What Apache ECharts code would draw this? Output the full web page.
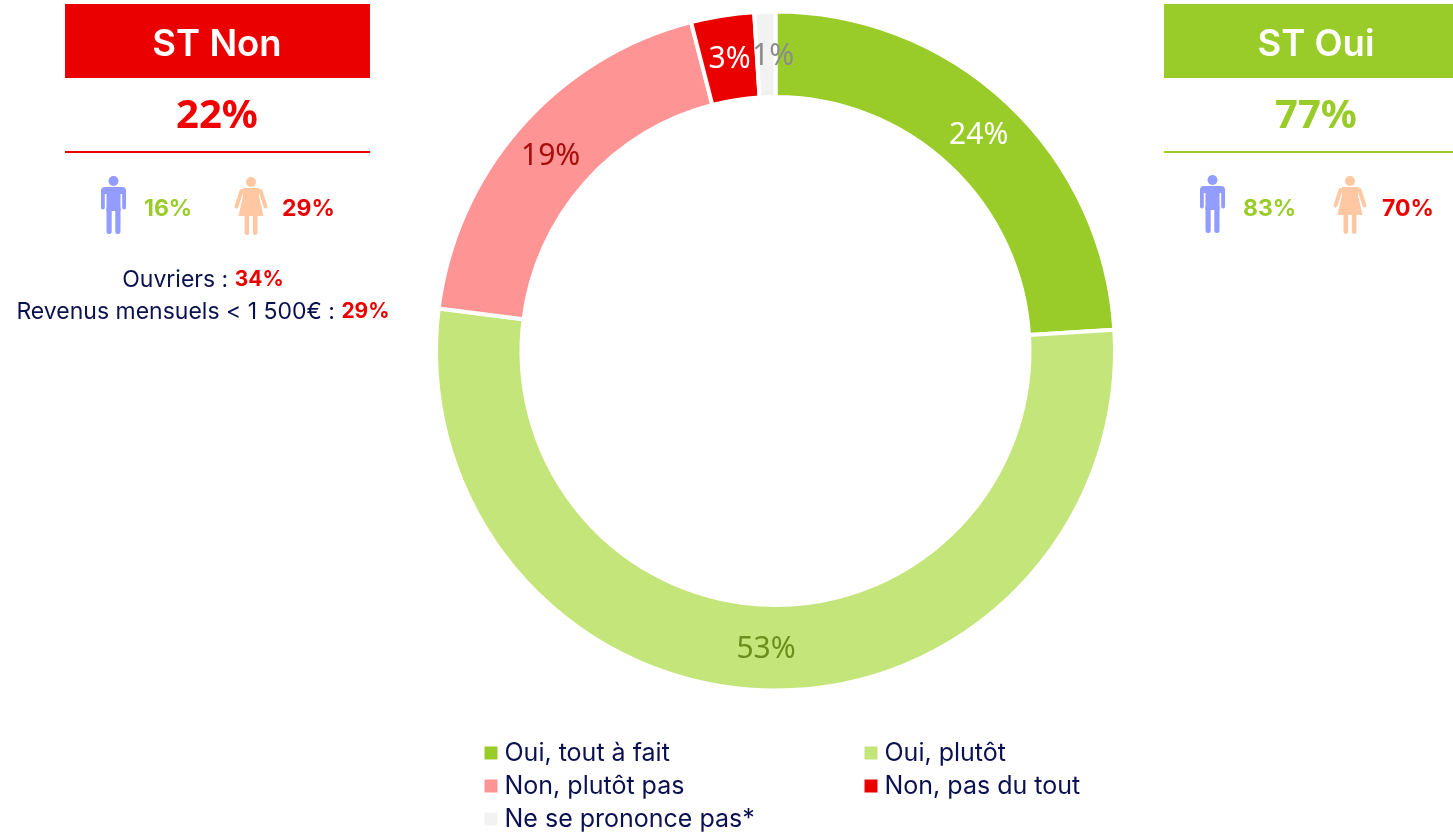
<!DOCTYPE html>
<html><head><meta charset="utf-8">
<style>html,body{margin:0;padding:0;background:#fff}#c{width:1453px;height:832px}</style>
<script src="https://cdn.jsdelivr.net/npm/echarts@6/dist/echarts.min.js"></script></head>
<body><div id="c"></div>
<script>
const categories=['Oui, tout à fait','Oui, plutôt','Non, plutôt pas','Non, pas du tout','Ne se prononce pas*'];
const values=[24,53,19,3,1];
const sliceColors=['#99CC28','#C4E57A','#FF9494','#EB0000','#F2F2F2'];
const labelColors=['#ffffff','#6B8E1E','#A80C0C','#ffffff','#8C8C8C'];
const labelNudges=[[-2,3],[0,-1],[0,4],[1,5],[7,5]];
const legendLeft=[categories[0],categories[2],categories[4]];
const legendRight=[categories[1],categories[3]];
const stNon={title:'ST Non',total:'22%',men:'16%',women:'29%'};
const stOui={title:'ST Oui',total:'77%',men:'83%',women:'70%'};
const details=[['Ouvriers : ','34%'],['Revenus mensuels < 1 500€ : ','29%']];
const FONT='Inter', HAND='"Noto Sans"';
const GREEN='#99CC28',RED='#EB0000',NAVY='#0B1150',MAN='#939CFF',WOMAN='#FFC8A3';
function rr(x,y,w,h,r,c){return {type:'rect',shape:{x:x,y:y,width:w,height:h,r:r},style:{fill:c}};}
function manIcon(x,y){const c=MAN;return {type:'group',x:x,y:y,children:[
 {type:'circle',shape:{cx:0,cy:5,r:5},style:{fill:c}},
 rr(-12.5,11,25,7,[4,4,0,0],c),
 rr(-12.5,13,3.8,20.5,1.8,c), rr(8.7,13,3.8,20.5,1.8,c),
 rr(-7,11,14,24,0,c),
 rr(-7,30,5.2,28,2.5,c), rr(1.8,30,5.2,28,2.5,c)]};}
function womanIcon(x,y){const c=WOMAN;const arm=(a,b)=>({type:'line',shape:{x1:a,y1:14,x2:b,y2:29.5},style:{stroke:c,lineWidth:4,lineCap:'round'}});
 return {type:'group',x:x,y:y,children:[
 {type:'circle',shape:{cx:0,cy:5,r:5},style:{fill:c}},
 {type:'polygon',shape:{points:[[-8,11],[8,11],[8,19],[12.5,39],[-12.5,39],[-8,19]]},style:{fill:c}},
 arm(-9.5,-14.5),arm(9.5,14.5),
 rr(-6.5,36,4.6,22,2.2,c), rr(1.9,36,4.6,22,2.2,c)]};}
function txt(x,y,t,fill,size,weight,font,align){return {type:'text',x:x,y:y,style:{text:t,fill:fill,fontSize:size,fontWeight:weight,fontFamily:font||FONT,align:align||'center',verticalAlign:'middle'}};}
function panel(d,x,w,color,o){return [
 {type:'rect',shape:{x:x,y:4,width:w,height:74},style:{fill:color}},
 txt(o.c,45,d.title,'#fff',36.5,600),
 txt(o.c,117,d.total,color===RED?'#F00000':color,40,700,HAND),
 {type:'rect',shape:{x:x,y:151,width:w,height:2},style:{fill:color}},
 manIcon(o.m,o.top),
 txt(o.mt,209,d.men,GREEN,23,700,FONT,'left'),
 womanIcon(o.w,o.top+1),
 txt(o.wt,209,d.women,RED,23,700,FONT,'left')];}
const rich={n:{fill:NAVY,fontSize:23,fontFamily:FONT},r:{fill:RED,fontSize:21,fontWeight:700,fontFamily:FONT}};
const detailEls=details.map((d,i)=>({type:'text',x:203,y:280+i*32,style:{text:'{n|'+d[0]+'}{r|'+d[1]+'}',rich:rich,align:'center',verticalAlign:'middle'}}));
const chart=echarts.init(document.getElementById('c'));
const legendBase={orient:'vertical',itemWidth:15,itemHeight:15,itemGap:7,icon:'rect',top:740,textStyle:{color:NAVY,fontSize:25,fontFamily:FONT,lineHeight:26,padding:[0,0,0,1]},padding:0};
chart.setOption({animation:false,
 legend:[Object.assign({},legendBase,{left:482.5,data:legendLeft}),Object.assign({},legendBase,{left:862.5,data:legendRight})],
 graphic:{elements:[].concat(
  panel(stNon,65,305,RED,{c:217,m:113.5,w:251,mt:144,wt:282,top:176}),
  panel(stOui,1164,289,GREEN,{c:1316,m:1212.5,w:1350,mt:1243,wt:1382,top:175}),
  detailEls)},
 series:[{type:'pie',center:[775.5,351],radius:[254,339.5],clockwise:true,startAngle:90,
  itemStyle:{borderColor:'#fff',borderWidth:4},
  label:{position:'inside',fontSize:30,fontFamily:HAND},labelLine:{show:false},emphasis:{disabled:true},
  data:categories.map((c,i)=>({name:c,value:values[i],itemStyle:{color:sliceColors[i]},
   label:{formatter:values[i]+'%',color:labelColors[i],offset:labelNudges[i]}}))}]
});
</script></body></html>
